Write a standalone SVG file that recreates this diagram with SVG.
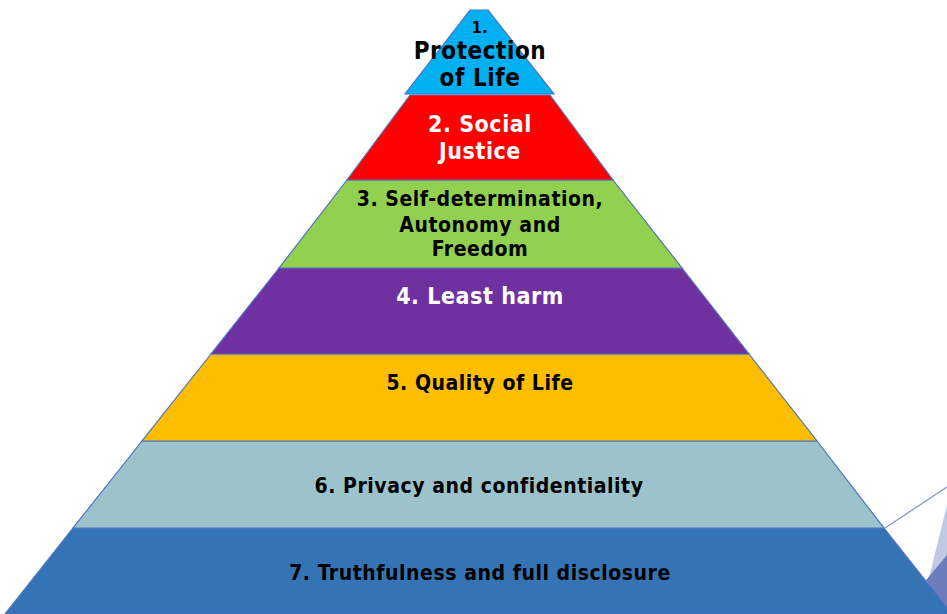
<svg xmlns="http://www.w3.org/2000/svg" width="947" height="614" viewBox="0 0 947 614">
<style>
.tier{stroke:#4F72C0;stroke-width:1.2}
.t{font-family:"DejaVu Sans Condensed","DejaVu Sans",sans-serif;font-weight:bold;text-anchor:middle;font-size:21px;letter-spacing:0.55px}
.b{fill:#000}
.w{fill:#fff}
</style>
<rect width="947" height="614" fill="#fff"/>
<g id="decor">
<line x1="885" y1="528" x2="947" y2="487" stroke="#7F93CF" stroke-width="1.2"/>
<polygon points="947,505 928,582 947,582" fill="#C0C9E4"/>
<polygon points="947,555 926,580 947,614" fill="#6D7DBC"/>
</g>
<g id="tier7"><polygon class="tier" points="73,528 884,528 952,614 5,614" fill="#3574B4"/><text class="t b" x="480" y="580">7. Truthfulness and full disclosure</text></g>
<g id="tier6"><polygon class="tier" points="142,441 817,441 884,528 73,528" fill="#9CC3CB"/><text class="t b" x="479" y="493">6. Privacy and confidentiality</text></g>
<g id="tier5"><polygon class="tier" points="211,354 749,354 817,441 142,441" fill="#FDBE00"/><text class="t b" x="480" y="390">5. Quality of Life</text></g>
<g id="tier4"><polygon class="tier" points="279,268 682,268 749,354 211,354" fill="#7031A0"/><text class="t w" x="480" y="304" style="font-size:23px">4. Least harm</text></g>
<g id="tier3"><polygon class="tier" points="347,180 613,180 682,268 279,268" fill="#92D050"/><text class="t b" x="480" y="206">3. Self-determination,</text><text class="t b" x="480" y="232">Autonomy and</text><text class="t b" x="480" y="256">Freedom</text></g>
<g id="tier2"><polygon class="tier" points="410,95 550,95 613,180 347,180" fill="#FF0000"/><text class="t w" x="480" y="132" style="font-size:23px">2. Social</text><text class="t w" x="480" y="159" style="font-size:23px">Justice</text></g>
<g id="tier1"><polygon class="tier" points="470,10 488,10 554,94 405,94" fill="#00B0F0"/><text class="t b" x="480" y="33" style="font-size:16px">1.</text><text class="t b" x="480" y="59" style="font-size:24px">Protection</text><text class="t b" x="480" y="86" style="font-size:24px">of Life</text></g>
</svg>
